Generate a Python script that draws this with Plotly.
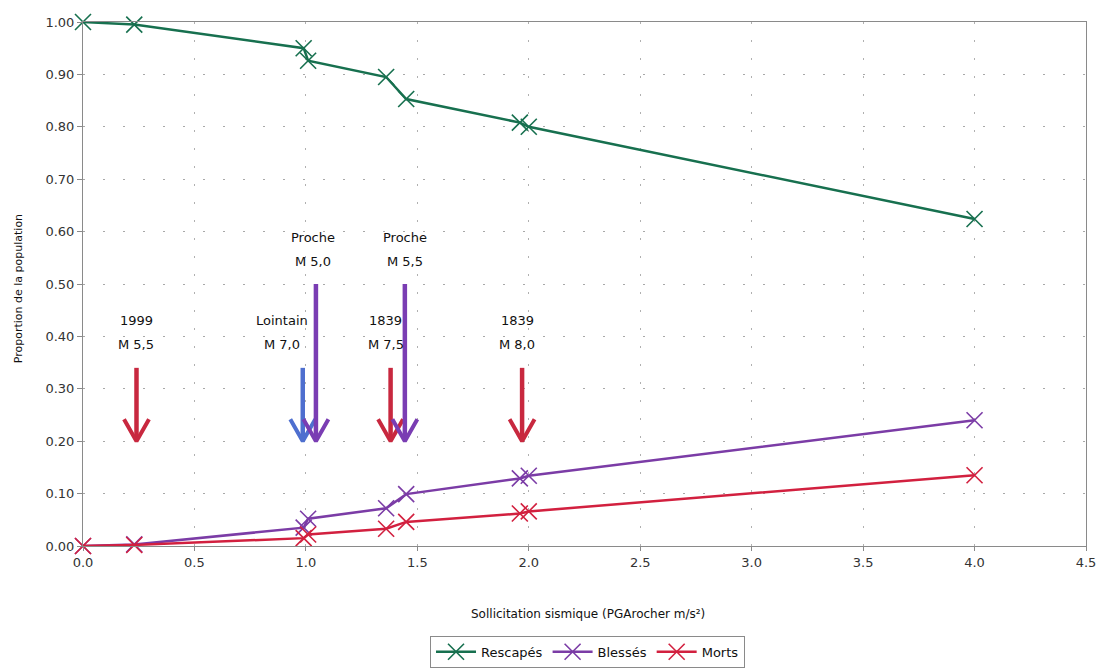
import plotly.graph_objects as go

# Seismic loading (PGA on rock, m/s²) at each computed scenario
pga = [0.0, 0.23, 0.99, 1.01, 1.36, 1.45, 1.96, 2.0, 4.0]

# Proportion of the population in each outcome
rescapes = [1.00, 0.995, 0.950, 0.926, 0.895, 0.853, 0.808, 0.800, 0.624]
blesses = [0.0, 0.003, 0.035, 0.052, 0.072, 0.099, 0.129, 0.134, 0.240]
morts = [0.0, 0.002, 0.015, 0.022, 0.033, 0.046, 0.062, 0.066, 0.135]

# Reference earthquakes marked on the chart
event_pga = [0.24, 0.986, 1.045, 1.38, 1.444, 1.97]
event_line1 = ["1999", "Lointain", "Proche", "1839", "Proche", "1839"]
event_line2 = ["M 5,5", "M 7,0", "M 5,0", "M 7,5", "M 5,5", "M 8,0"]
event_kind = ["hist", "far", "near", "hist", "near", "hist"]

x_ticks = [0.0, 0.5, 1.0, 1.5, 2.0, 2.5, 3.0, 3.5, 4.0, 4.5]
y_ticks = [0.0, 0.1, 0.2, 0.3, 0.4, 0.5, 0.6, 0.7, 0.8, 0.9, 1.0]

# Styling
FONT = "DejaVu Sans"
series_style = [
    ("Rescapés", rescapes, "#17704f"),
    ("Blessés", blesses, "#7b3ca6"),
    ("Morts", morts, "#d2203f"),
]
arrow_color = {"hist": "#c8283f", "far": "#4e6fcf", "near": "#7a3db3"}
arrow_top = {"hist": 0.34, "far": 0.34, "near": 0.50}
arrow_tip = 0.20
head_dx = 0.056   # half width of arrow head in x units
head_dy = 0.042   # height of arrow head in y units
text_xshift = [0, -21, -3, -5, 0, -5]

fig = go.Figure()

# Event arrows (shaft + open V head)
for x, kind in zip(event_pga, event_kind):
    c = arrow_color[kind]
    fig.add_trace(go.Scatter(
        x=[x, x], y=[arrow_top[kind], arrow_tip + 0.006],
        mode="lines", line=dict(color=c, width=4.5),
        showlegend=False, hoverinfo="skip"))
    fig.add_trace(go.Scatter(
        x=[x - head_dx, x, x + head_dx],
        y=[arrow_tip + head_dy, arrow_tip, arrow_tip + head_dy],
        mode="lines", line=dict(color=c, width=4),
        showlegend=False, hoverinfo="skip"))

for name, vals, color in series_style:
    fig.add_trace(go.Scatter(
        x=pga, y=vals, name=name, mode="lines+markers",
        line=dict(color=color, width=2.5),
        marker=dict(symbol="x-thin", size=16,
                    line=dict(color=color, width=1.6)),
        cliponaxis=False,
    ))

annotations = []
for x, l1, l2, kind, dx in zip(event_pga, event_line1, event_line2,
                               event_kind, text_xshift):
    for txt, shift in ((l1, 47), (l2, 23)):
        annotations.append(dict(
            x=x, y=arrow_top[kind], xref="x", yref="y",
            text=txt, showarrow=False, xshift=dx, yshift=shift,
            xanchor="center", yanchor="middle",
            font=dict(family=FONT, size=13, color="#111111")))

# Axis titles
annotations.append(dict(
    x=0.503, y=0, xref="paper", yref="paper", yshift=-68,
    text="Sollicitation sismique (PGArocher m/s²)", showarrow=False,
    xanchor="center", yanchor="middle",
    font=dict(family=FONT, size=12, color="#111111")))
annotations.append(dict(
    x=0, y=0.49, xref="paper", yref="paper", xshift=-65,
    text="Proportion de la population", showarrow=False, textangle=-90,
    xanchor="center", yanchor="middle",
    font=dict(family=FONT, size=11, color="#111111")))

fig.update_layout(
    width=1100, height=672,
    margin=dict(l=83, r=14, t=22, b=126, autoexpand=False),
    paper_bgcolor="white", plot_bgcolor="white",
    font=dict(family=FONT, color="#222222"),
    annotations=annotations,
    showlegend=True,
    legend=dict(
        orientation="h", x=0.503, xanchor="center",
        yref="container", y=0.03, yanchor="middle",
        bordercolor="#8a8a8a", borderwidth=1,
        font=dict(family=FONT, size=13, color="#111111"),
        itemwidth=40, tracegroupgap=0,
    ),
    xaxis=dict(
        range=[0, 4.5], tickvals=x_ticks,
        ticktext=[f"{v:.1f}" for v in x_ticks],
        showline=True, linecolor="#8a8a8a", linewidth=1, mirror=True,
        ticks="outside", ticklen=4, tickcolor="#8a8a8a",
        showgrid=True, gridcolor="#b0b0b0", griddash="2px,16px",
        zeroline=False, automargin=False,
        tickfont=dict(family=FONT, size=13, color="#333333"),
    ),
    yaxis=dict(
        range=[0, 1.0], tickvals=y_ticks,
        ticktext=[f"{v:.2f}" for v in y_ticks],
        showline=True, linecolor="#8a8a8a", linewidth=1, mirror=True,
        ticks="outside", ticklen=5, tickcolor="#8a8a8a",
        showgrid=True, gridcolor="#a8a8a8", griddash="2px,18px",
        zeroline=False, automargin=False,
        tickfont=dict(family=FONT, size=13, color="#333333"),
    ),
)

fig.write_html("out.html")
